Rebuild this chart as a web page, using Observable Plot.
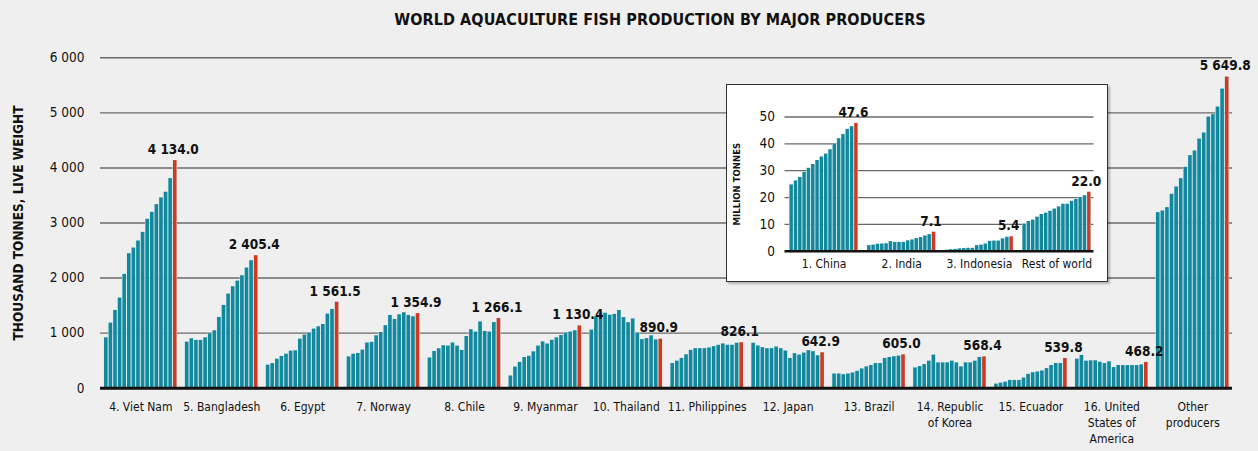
<!DOCTYPE html>
<html>
<head>
<meta charset="utf-8">
<script src="https://cdn.jsdelivr.net/npm/d3@7"></script>
<script src="https://cdn.jsdelivr.net/npm/@observablehq/plot@0.6"></script>
<style>
  html, body { margin: 0; padding: 0; background: #efefef; }
  body { width: 1258px; height: 451px; position: relative; overflow: hidden; font-family: "DejaVu Sans Condensed", "DejaVu Sans", sans-serif; }
  #title { height: 40px; line-height: 40px; text-align: center; font-weight: bold; font-size: 16px; color: #111; padding-left: 62px; box-sizing: border-box; letter-spacing: 0.1px; }
  #inset { position: absolute; left: 726px; top: 84px; width: 380px; height: 196px; background: #fff; border: 1.5px solid #333; box-shadow: 2px 2px 2px rgba(0,0,0,0.25); }
  svg { display: block; }
  svg text.lbl { letter-spacing: -0.35px; }
  svg text.val { letter-spacing: -0.5px; }
</style>
</head>
<body>
<div id="title">WORLD AQUACULTURE FISH PRODUCTION BY MAJOR PRODUCERS</div>
<div id="main"></div>
<div id="inset"></div>
<script>
// ---------- DATA (thousand tonnes, live weight; 16 years, last = 2016) ----------
const years = [2001,2002,2003,2004,2005,2006,2007,2008,2009,2010,2011,2012,2013,2014,2015,2016];
const groups = ["4. Viet Nam","5. Bangladesh","6. Egypt","7. Norway","8. Chile","9. Myanmar","10. Thailand","11. Philippines","12. Japan","13. Brazil","14. Republic\nof Korea","15. Ecuador","16. United\nStates of\nAmerica","Other\nproducers"];
const vietNam     = [915,1182,1412,1636,2067,2442,2545,2673,2830,3067,3194,3333,3455,3558,3806,4134.0];
const bangladesh  = [836,897,867,867,915,988,1042,1285,1503,1709,1842,1945,2042,2182,2315,2405.4];
const egypt       = [418,448,527,576,618,673,679,891,964,1000,1073,1115,1158,1345,1430,1561.5];
const norway      = [568,617,630,691,821,833,951,1012,1136,1321,1247,1333,1370,1321,1296,1354.9];
const chile       = [549,667,716,772,765,821,765,685,938,1062,1019,1204,1031,1019,1191,1266.1];
const myanmar     = [222,383,469,556,580,660,765,840,802,870,914,957,1000,1019,1043,1130.4];
const thailand    = [1055,1294,1362,1362,1325,1340,1411,1282,1190,1258,994,883,902,951,877,890.9];
const philippines = [448,491,540,607,687,718,718,718,730,755,779,804,779,779,816,826.1];
const japan       = [816,767,736,718,718,748,718,675,540,626,601,638,681,663,589,642.9];
const brazil      = [258,258,245,258,276,307,350,387,411,448,448,540,558,571,583,605.0];
const korea       = [368,393,429,491,601,460,460,460,491,460,387,460,460,491,558,568.4];
const ecuador     = [74,92,110,141,141,141,184,252,282,294,313,356,411,448,448,539.8];
const usa         = [528,595,491,497,497,472,448,479,374,411,411,411,411,411,423,468.2];
const others      = [3188,3218,3279,3521,3654,3805,4011,4223,4307,4525,4634,4924,4967,5106,5432,5649.8];
const yTicks = [0,1000,2000,3000,4000,5000,6000];

// inset (million tonnes)
const insetGroups = ["1. China","2. India","3. Indonesia","Rest of world"];
const china     = [24.7,26.2,27.5,29.4,30.9,32.3,33.8,35.1,36.2,37.8,39.8,41.9,43.5,45.4,46.4,47.6];
const india     = [2.1,2.3,2.6,2.7,2.8,3.6,3.3,3.3,3.3,3.9,4.2,4.7,5.1,5.7,6.2,7.1];
const indonesia = [0.4,0.6,0.7,0.9,1.0,1.1,1.1,2.1,2.3,2.7,3.7,3.8,3.8,4.6,5.2,5.4];
const restWorld = [10.1,11.1,11.6,12.7,13.7,14.2,14.9,15.7,16.5,17.5,17.5,18.6,19.3,20.0,20.7,22.0];
const insetTicks = [0,10,20,30,40,50];

// ---------- LAYOUT ----------
const FONT = "DejaVu Sans Condensed, DejaVu Sans, sans-serif";
const TEAL = "#12889d", RED = "#cf3a22", GAP = "#d7e9ed", GRID = "#6a6a6a";
const BW = 0.78;
const fmtSpace = d => d3.format(",")(d).replace(/,/g, " ");
const fmtVal = d => d3.format(",.1f")(d).replace(/,/g, " ");

function buildRows(names, series, step) {
  const rows = [];
  series.forEach((vals, gi) => vals.forEach((v, yi) => rows.push({
    group: names[gi], gi, yi, year: years[yi], value: v,
    last: yi === vals.length - 1, x1: gi * step + yi
  })));
  return rows;
}

// ---------- MAIN ----------
const GSTEP = 17.6;
const mainSeries = [vietNam,bangladesh,egypt,norway,chile,myanmar,thailand,philippines,japan,brazil,korea,ecuador,usa,others];
const rows = buildRows(groups, mainSeries, GSTEP);
const lastRows = rows.filter(d => d.last);
const labelRows = groups.map((g, gi) => ({group: g, xc: gi * GSTEP + 7.9}));

const main = Plot.plot({
  width: 1258, height: 411,
  marginTop: 17.3, marginBottom: 63.3, marginLeft: 100, marginRight: 26,
  style: {background: "transparent", fontFamily: FONT},
  x: {domain: [-0.87, 245.34], axis: null},
  y: {domain: [0, 6000], axis: null},
  marks: [
    Plot.ruleY(yTicks.filter(d => d > 0), {stroke: GRID, strokeWidth: 1.4}),
    Plot.rectY(rows, {x1: d => d.x1 - 0.11, x2: d => d.x1 + 0.89, y: "value", fill: GAP}),
    Plot.rectY(rows, {x1: "x1", x2: d => d.x1 + BW, y: "value", fill: d => d.last ? RED : TEAL}),
    Plot.ruleY([0], {stroke: "#111", strokeWidth: 3}),
    Plot.text(lastRows, {x: d => d.x1 + BW / 2, y: "value", text: d => fmtVal(d.value), dy: -11, dx: -2, fontWeight: "bold", fontSize: 13.5, fill: "#111", className: "val"}),
    Plot.text(labelRows, {x: "xc", y: () => 0, text: "group", lineAnchor: "top", dy: 11, fontSize: 12, lineHeight: 1.35, fill: "#111", className: "lbl"}),
    Plot.text(yTicks, {x: () => -0.87, y: d => d, text: d => fmtSpace(d), textAnchor: "end", dx: -16, fontSize: 13.5, fill: "#111"}),
    Plot.text(["THOUSAND TONNES, LIVE WEIGHT"], {frameAnchor: "left", textAnchor: "middle", text: d => d, rotate: -90, dx: -82, fontWeight: "bold", fontSize: 13.5, fill: "#111", className: "lbl"})
  ]
});
document.getElementById("main").appendChild(main);

// ---------- INSET ----------
const ISTEP = 18;
const insetRows = buildRows(insetGroups, [china, india, indonesia, restWorld], ISTEP);
const insetLast = insetRows.filter(d => d.last);
const insetLabels = insetGroups.map((g, gi) => ({group: g, xc: gi * ISTEP + 7.9}));

const inset = Plot.plot({
  width: 380, height: 196,
  marginTop: 31.5, marginBottom: 30.2, marginLeft: 57.5, marginRight: 13.5,
  style: {background: "transparent", fontFamily: FONT},
  x: {domain: [-1.16, 70.48], axis: null},
  y: {domain: [0, 50], axis: null},
  marks: [
    Plot.ruleY(insetTicks.filter(d => d > 0), {stroke: GRID, strokeWidth: 1.3}),
    Plot.rectY(insetRows, {x1: d => d.x1 - 0.11, x2: d => d.x1 + 0.89, y: "value", fill: GAP}),
    Plot.rectY(insetRows, {x1: "x1", x2: d => d.x1 + BW, y: "value", fill: d => d.last ? RED : TEAL}),
    Plot.ruleY([0], {stroke: "#111", strokeWidth: 2.5}),
    Plot.text(insetLast, {x: d => d.x1 + BW / 2, y: "value", text: d => d3.format(".1f")(d.value), dy: -11, dx: -3, fontWeight: "bold", fontSize: 13.5, fill: "#111", className: "val"}),
    Plot.text(insetLabels, {x: "xc", y: () => 0, text: "group", lineAnchor: "top", dy: 8, fontSize: 12, fill: "#111", className: "lbl"}),
    Plot.text(insetTicks, {x: () => -1.16, y: d => d, text: d => String(d), textAnchor: "end", dx: -10, fontSize: 13.5, fill: "#111"}),
    Plot.text(["MILLION TONNES"], {frameAnchor: "left", textAnchor: "middle", text: d => d, rotate: -90, dx: -48, fontWeight: "bold", fontSize: 9.5, fill: "#111"})
  ]
});
document.getElementById("inset").appendChild(inset);
</script>
</body>
</html>
